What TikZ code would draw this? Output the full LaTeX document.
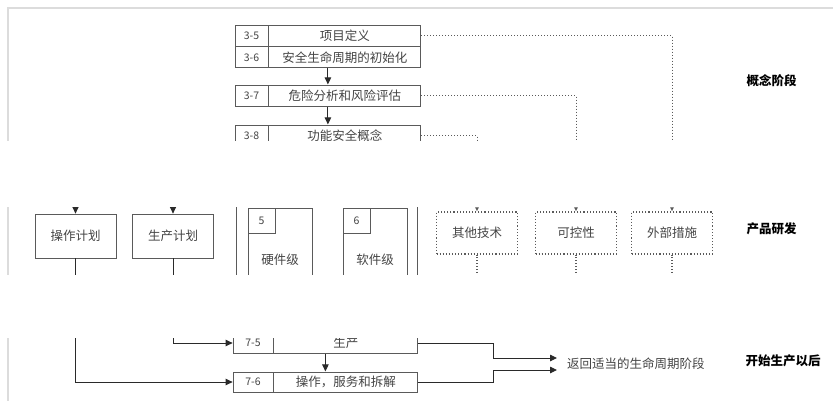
\documentclass[tikz,border=0pt]{standalone}
\usepackage{fontspec}
\setmainfont{Noto Sans CJK SC}
\usepackage{tikz}
\usetikzlibrary{arrows.meta,positioning,fit,calc}
\definecolor{ink}{HTML}{2A2A2A}
\definecolor{inkgray}{HTML}{5A5A5A}
\definecolor{txtgray}{HTML}{444444}
\definecolor{framegray}{HTML}{DCDCDC}

\begin{document}
\begin{tikzpicture}[x=1pt,y=-1pt,
    cell/.style={draw=inkgray,line width=0.8pt,minimum height=21pt,inner sep=0pt,text=txtgray},
    idcell/.style={cell,minimum width=33pt,font=\fontsize{10.5}{12}\selectfont},
    txtcell/.style={cell,minimum width=152pt,font=\fontsize{12.5}{14}\selectfont},
    idcellb/.style={idcell,minimum width=40pt},
    txtcellb/.style={txtcell,minimum width=144pt},
    planbox/.style={draw=inkgray,line width=0.8pt,minimum width=81pt,minimum height=44pt,inner sep=0pt,font=\fontsize{12.5}{14}\selectfont,text=txtgray},
    levelbox/.style={draw=inkgray,line width=0.8pt,minimum width=64pt,minimum height=104pt,inner sep=0pt,font=\fontsize{12.5}{14}\selectfont,text=txtgray},
    numsq/.style={draw=inkgray,line width=0.8pt,minimum width=27pt,minimum height=25pt,inner sep=0pt,font=\fontsize{10.5}{12}\selectfont,text=txtgray},
    otherbox/.style={draw=inkgray,dotted,line width=1.1pt,minimum width=81pt,minimum height=42pt,inner sep=0pt,font=\fontsize{12.5}{14}\selectfont,text=txtgray},
    phase/.style={anchor=west,font=\fontsize{12.5}{14}\selectfont\bfseries,text=black},
    flow/.style={draw=ink,line width=0.9pt,-{Triangle[length=7pt,width=6.5pt]}},
    link/.style={draw=inkgray,line width=1pt,dotted,-{Latex[length=4pt,width=4pt]}},
    plain/.style={draw=inkgray,line width=0.9pt}]
  \useasboundingbox (0,0) rectangle (833,400);
  \fill[white] (0,0) rectangle (833,400);

  \node[idcell] (n35) at (251.5,35.5) {3-5};
  \node[txtcell,right=0pt of n35] (t35) {项目定义};
  \node[idcell,below=0pt of n35] (n36) {3-6};
  \node[txtcell,right=0pt of n36] (t36) {安全生命周期的初始化};
  \node[idcell] (n37) at (251.5,95.5) {3-7};
  \node[txtcell,right=0pt of n37] (t37) {危险分析和风险评估};
  \node[idcell] (n38) at (251.5,135.5) {3-8};
  \node[txtcell,right=0pt of n38] (t38) {功能安全概念};
  \node[inner sep=0pt,fit=(n35)(t36)] (blk36) {};
  \node[inner sep=0pt,fit=(n37)(t37)] (blk37) {};
  \node[inner sep=0pt,fit=(n38)(t38)] (blk38) {};
  \draw[flow] (blk36) -- (blk37);
  \draw[flow] (blk37) -- (blk38);

  \node[draw=inkgray,line width=0.8pt,minimum width=181pt,minimum height=110pt] (sys) at (326.5,240) {};
  \node[planbox] (op) at (75.5,236) {操作计划};
  \node[planbox] (pp) at (173,236) {生产计划};
  \node[levelbox] (hw) at (280,260) {硬件级};
  \node[numsq,anchor=north west] (hwn) at (hw.north west) {5};
  \node[levelbox] (sw) at (375,260) {软件级};
  \node[numsq,anchor=north west] (swn) at (sw.north west) {6};
  \node[otherbox] (oth) at (477,233) {其他技术};
  \node[otherbox] (ctl) at (576,233) {可控性};
  \node[otherbox] (ext) at (672,233) {外部措施};
  \coordinate (opsrc) at (75.5,170);
  \coordinate (ppsrc) at (173,170);
  \coordinate (othend) at (477,300);
  \coordinate (ctlend) at (576,300);
  \coordinate (extend) at (672,300);
  \draw[flow] (opsrc) -- (op);
  \draw[flow] (ppsrc) -- (pp);
  \draw[link] (t35.east) -| (ext.north);
  \draw[link] (t37.east) -| (ctl.north);
  \draw[link] (t38.east) -| (oth.north);
  \draw[plain,dotted,line width=1.1pt] (oth.south) -- (othend);
  \draw[plain,dotted,line width=1.1pt] (ctl.south) -- (ctlend);
  \draw[plain,dotted,line width=1.1pt] (ext.south) -- (extend);

  \node[idcellb,minimum height=20pt] (n75) at (253,343) {7-5};
  \node[txtcellb,minimum height=20pt,right=0pt of n75] (t75) {生产};
  \node[idcellb,minimum height=20pt] (n76) at (253,382) {7-6};
  \node[txtcellb,minimum height=20pt,right=0pt of n76] (t76) {操作，服务和拆解};
  \node[inner sep=0pt,fit=(n75)(t75)] (row75) {};
  \node[inner sep=0pt,fit=(n76)(t76)] (row76) {};
  \draw[flow] (row75) -- (row76);
  \draw[flow] (pp.south) |- (n75.west);
  \draw[flow] (op.south) |- (n76.west);
  \node[anchor=west,inner xsep=10pt,inner ysep=0pt,font=\fontsize{12.5}{14}\selectfont,text=txtgray] (ret) at (557,364) {返回适当的生命周期阶段};
  \draw[flow] (t75.east) -- ++(75,0) |- ([yshift=6pt]ret.west);
  \draw[flow] (t76.east) -- ++(75,0) |- ([yshift=-6pt]ret.west);

  \fill[white] (-1,141) rectangle (834,207);
  \fill[white] (-1,275) rectangle (834,338);
  \draw[framegray,line width=2pt] (834,8) -- (8,8) -- (8,141);
  \draw[framegray,line width=2pt] (8,207) -- (8,275);
  \draw[framegray,line width=2pt] (8,338) -- (8,401);

  \node[phase] (ph1) at (743,81) {概念阶段};
  \node[phase] (ph2) at (743,229) {产品研发};
  \node[phase] (ph3) at (742,361) {开始生产以后};
\end{tikzpicture}
\end{document}
